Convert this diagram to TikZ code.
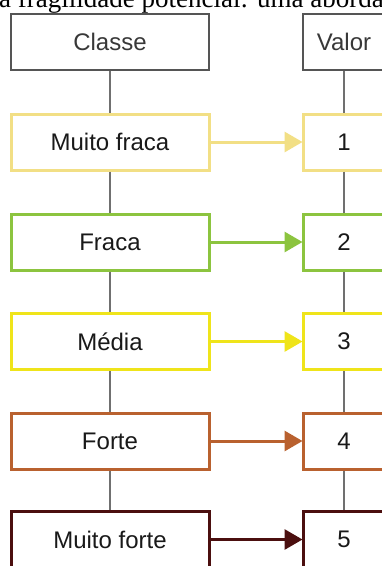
\documentclass[tikz,border=0pt]{standalone}
\usepackage{fontspec}
\setmainfont{Liberation Sans}
\newfontfamily\capfont{Liberation Serif}
\usetikzlibrary{arrows.meta}
\definecolor{cMF}{HTML}{F2DF85}
\definecolor{cF}{HTML}{8CC43F}
\definecolor{cM}{HTML}{EFE41A}
\definecolor{cFo}{HTML}{B9612F}
\definecolor{cMFo}{HTML}{4B0F0F}
\definecolor{cGray}{HTML}{555555}
\definecolor{cLine}{HTML}{707070}
\tikzset{
  lbox/.style={draw, rectangle, minimum width=198pt, minimum height=56pt, inner sep=0pt,
    font=\fontsize{24}{28}\selectfont, text=black!90},
  rbox/.style={lbox, minimum width=82pt},
  hdr/.style={line width=2pt, draw=cGray, text=black!78},
  clr/.style={line width=3pt, draw=#1},
  vline/.style={draw=cLine, line width=1.5pt},
  harrow/.style={draw=#1, line width=3pt, -{Triangle[length=18pt,width=20pt]}, shorten >=-1pt}
}
\begin{document}
\begin{tikzpicture}[x=1pt,y=-1pt]
\fill[white] (0,0) rectangle (382,566);
\useasboundingbox (0,0) rectangle (382,566);
\clip (0,0) rectangle (382,566);
\node[anchor=base west, font=\capfont\fontsize{27}{31}\selectfont, inner sep=0pt] (cap) at (-1,7.5) {a fragilidade potencial: uma aborda};
% left column
\node[lbox, hdr] (c0) at (110,41.5) {Classe};
\node[lbox, clr=cMF] (c1) at (110,142) {Muito fraca};
\node[lbox, clr=cF] (c2) at (110,242) {Fraca};
\node[lbox, clr=cM] (c3) at (110,341.5) {Média};
\node[lbox, clr=cFo] (c4) at (110,441) {Forte};
\node[lbox, clr=cMFo] (c5) at (110,539.5) {Muito forte};
% right column
\node[rbox, hdr] (v0) at (344,41.5) {Valor};
\node[rbox, clr=cMF] (v1) at (344,142) {1};
\node[rbox, clr=cF] (v2) at (344,242) {2};
\node[rbox, clr=cM] (v3) at (344,341.5) {3};
\node[rbox, clr=cFo] (v4) at (344,441) {4};
\node[rbox, clr=cMFo] (v5) at (344,539.5) {5};
% vertical connectors
\foreach \a/\b in {0/1,1/2,2/3,3/4,4/5}{
  \draw[vline] (c\a.south) -- (c\b.north);
  \draw[vline] (v\a.south) -- (v\b.north);
}
% arrows
\draw[harrow=cMF] (c1.east) -- (v1.west);
\draw[harrow=cF] (c2.east) -- (v2.west);
\draw[harrow=cM] (c3.east) -- (v3.west);
\draw[harrow=cFo] (c4.east) -- (v4.west);
\draw[harrow=cMFo] (c5.east) -- (v5.west);
\end{tikzpicture}
\end{document}
